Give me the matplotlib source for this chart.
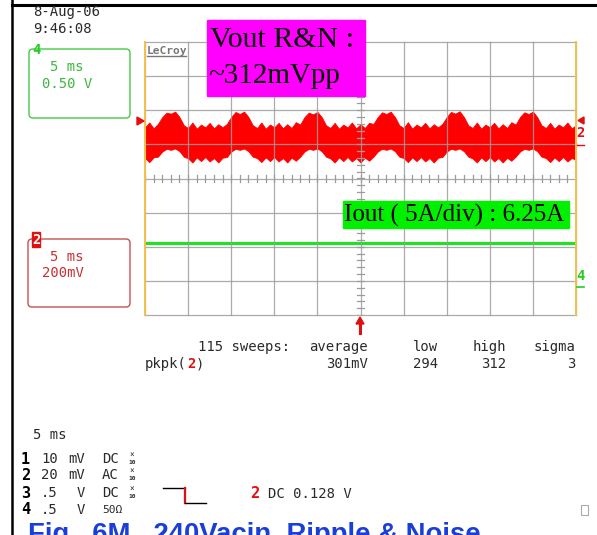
import numpy as np
import matplotlib
matplotlib.use('Agg')
import matplotlib.pyplot as plt
from matplotlib.patches import FancyBboxPatch, Rectangle, Polygon

# ---------------- data (in scope divisions) ----------------
# time axis of the Vout envelope (divisions, 5 ms/div)
vout_x = [i / 10 for i in range(101)]
# upper envelope of the Vout ripple & noise band (div, 20 mV/div)
vout_hi = [1.50, 1.64, 1.47, 1.60, 1.80, 1.93, 1.90, 1.96, 1.80, 1.56,
           1.48, 1.64, 1.46, 1.58, 1.50, 1.63, 1.47, 1.59, 1.50, 1.60,
           1.80, 1.95, 1.89, 1.96, 1.80, 1.56, 1.48, 1.64, 1.46, 1.58,
           1.50, 1.63, 1.47, 1.59, 1.48, 1.65, 1.58, 1.80, 1.93, 1.88,
           1.95, 1.80, 1.56, 1.48, 1.63, 1.46, 1.58, 1.50, 1.64, 1.47,
           1.59, 1.48, 1.63, 1.60, 1.80, 1.94, 1.89, 1.96, 1.80, 1.56,
           1.48, 1.65, 1.46, 1.58, 1.50, 1.63, 1.47, 1.59, 1.50, 1.60,
           1.80, 1.95, 1.90, 1.97, 1.80, 1.56, 1.48, 1.64, 1.46, 1.58,
           1.50, 1.63, 1.47, 1.59, 1.48, 1.65, 1.58, 1.80, 1.94, 1.89,
           1.96, 1.80, 1.56, 1.48, 1.63, 1.46, 1.58, 1.50, 1.64, 1.47, 1.56]
# lower envelope of the Vout ripple & noise band
vout_lo = [0.60, 0.48, 0.62, 0.64, 0.79, 0.87, 0.84, 0.88, 0.80, 0.64,
           0.59, 0.47, 0.62, 0.51, 0.63, 0.50, 0.60, 0.47, 0.61, 0.63,
           0.79, 0.87, 0.84, 0.88, 0.80, 0.64, 0.60, 0.48, 0.62, 0.51,
           0.63, 0.50, 0.60, 0.47, 0.61, 0.52, 0.64, 0.79, 0.87, 0.84,
           0.88, 0.80, 0.64, 0.59, 0.47, 0.62, 0.51, 0.63, 0.50, 0.60,
           0.47, 0.61, 0.52, 0.64, 0.79, 0.87, 0.84, 0.88, 0.80, 0.64,
           0.60, 0.48, 0.62, 0.51, 0.63, 0.50, 0.60, 0.47, 0.61, 0.63,
           0.79, 0.87, 0.84, 0.88, 0.80, 0.64, 0.59, 0.47, 0.62, 0.51,
           0.63, 0.50, 0.60, 0.47, 0.61, 0.52, 0.64, 0.79, 0.87, 0.84,
           0.88, 0.80, 0.64, 0.60, 0.48, 0.62, 0.51, 0.63, 0.50, 0.60, 0.55]
# Iout trace (div)
iout_x = [0, 10]
iout_y = [-1.88, -1.88]

# measurement table
meas_headers = ["average", "low", "high", "sigma"]
meas_values = ["301mV", "294", "312", "3"]
sweeps = "115 sweeps:"

# channel setup table
ch_nums = ["1", "2", "3", "4"]
ch_scale = ["10", "20", ".5", ".5"]
ch_unit = ["mV", "mV", "V", "V"]
ch_coupling = ["DC", "AC", "DC", "50\u03a9"]

# ---------------- figure ----------------
W, H = 597, 535
fig = plt.figure(figsize=(W / 100, H / 100), dpi=100)
fig.patch.set_facecolor('white')

L, R, T, B = 145, 576, 42, 315
sc = fig.add_axes([L / W, 1 - B / H, (R - L) / W, (B - T) / H])
sc.set_xlim(0, 10)
sc.set_ylim(-4, 4)
sc.axis('off')

gcol = '#9c9c9c'
# traces
sc.fill_between(vout_x, vout_lo, vout_hi, color='#ff0000', lw=0.6, zorder=2)
sc.plot(iout_x, iout_y, color='#22e022', lw=2.3, zorder=2, solid_capstyle='butt')

# grid
for i in range(11):
    sc.plot([i, i], [-4, 4], color=gcol, lw=0.9, zorder=3, alpha=0.85, clip_on=False)
for j in range(-4, 5):
    sc.plot([0, 10], [j, j], color=gcol, lw=0.9, zorder=3, alpha=0.85, clip_on=False)
for t in np.arange(0, 10.001, 0.2):
    sc.plot([t, t], [-0.09, 0.09], color=gcol, lw=0.9, zorder=3)
for t in np.arange(-4, 4.001, 0.2):
    sc.plot([4.92, 5.08], [t, t], color=gcol, lw=0.9, zorder=3)
sc.plot([0, 0], [-4, 4], color='#f2c04a', lw=1.4, zorder=4, clip_on=False)
sc.plot([10, 10], [-4, 4], color='#f2c04a', lw=1.4, zorder=4, clip_on=False)

# ---------------- overlay in pixel coords ----------------
ov = fig.add_axes([0, 0, 1, 1], zorder=5)
ov.set_xlim(0, W)
ov.set_ylim(H, 0)
ov.axis('off')
ov.patch.set_alpha(0)

mono = 'DejaVu Sans Mono'
tcol = '#2a2a2a'

ov.plot([12, 12], [0, H], color='black', lw=1.8)
ov.plot([12, W], [5, 5], color='black', lw=2.2)

ov.text(33, 12, "8-Aug-06", family=mono, fontsize=10, color=tcol, va='center')
ov.text(33, 29, "9:46:08", family=mono, fontsize=10, color=tcol, va='center')

# channel 4 box (green)
gbox = '#46c846'
ov.add_patch(FancyBboxPatch((29, 49), 101, 69, boxstyle='round,pad=0,rounding_size=4',
                            ec=gbox, fc='none', lw=1.0))
ov.text(36, 50, "4", family=mono, fontsize=10, fontweight='bold', color='#22cc22', va='center', ha='center')
ov.text(50, 67, "5 ms", family=mono, fontsize=10, color='#3cb83c', va='center')
ov.text(42, 84, "0.50 V", family=mono, fontsize=10, color='#3cb83c', va='center')

# channel 2 box (red)
rbox = '#c85050'
ov.add_patch(FancyBboxPatch((28, 239), 102, 68, boxstyle='round,pad=0,rounding_size=4',
                            ec=rbox, fc='none', lw=1.0))
ov.add_patch(Rectangle((32, 232), 8, 15, color='#e01010'))
ov.text(36, 239.5, "2", family=mono, fontsize=10, fontweight='bold', color='white', va='center', ha='center')
ov.text(50, 257, "5 ms", family=mono, fontsize=10, color='#c83030', va='center')
ov.text(42, 273, "200mV", family=mono, fontsize=10, color='#c83030', va='center')

# LeCroy logo
ov.text(147, 51, "LeCroy", family=mono, fontsize=8, fontweight='bold', color='#777777', va='center')
ov.plot([147, 186], [56, 56], color='#777777', lw=1)

# markers
ov.add_patch(Polygon([[137, 117], [137, 125], [144, 121]], color='#e01010'))
ov.add_patch(Polygon([[584, 117], [584, 124], [578, 120.5]], color='#e01010'))
ov.text(580, 133, "2", family=mono, fontsize=10, fontweight='bold', color='#e01010', va='center', ha='center')
ov.plot([577, 584], [145, 145], color='#e01010', lw=1)
ov.text(580, 276, "4", family=mono, fontsize=10, fontweight='bold', color='#22cc22', va='center', ha='center')
ov.plot([577, 584], [287, 287], color='#22cc22', lw=1.2)

# trigger arrow
ov.add_patch(Polygon([[356, 324], [364, 324], [360, 317]], color='#e01010'))
ov.plot([360, 360], [322, 333], color='#e01010', lw=2.2)

# annotation boxes
ov.add_patch(Rectangle((207, 20), 158, 76, color='#ff00ff', zorder=6))
ov.text(210, 47, "Vout R&N :", family='Liberation Serif', fontsize=21.5, color='black',
        va='baseline', zorder=7)
ov.text(208, 83, "~312mVpp", family='Liberation Serif', fontsize=21, color='black',
        va='baseline', zorder=7)
ov.add_patch(Rectangle((343, 201), 226, 27, color='#00f000', zorder=6))
ov.text(344, 222, "Iout ( 5A/div) : 6.25A", family='Liberation Serif', fontsize=18,
        color='black', va='baseline', zorder=7)

# measurement table
ov.text(198, 347, sweeps, family=mono, fontsize=10, color=tcol, va='center')
for hx, h in zip([368, 438, 506, 575], meas_headers):
    ov.text(hx, 347, h, family=mono, fontsize=10, color=tcol, va='center', ha='right')
for hx, v in zip([368, 438, 506, 575], meas_values):
    ov.text(hx, 364, v, family=mono, fontsize=10, color=tcol, va='center', ha='right')
ov.text(145, 364, "pkpk(", family=mono, fontsize=10, color=tcol, va='center')
ov.text(187, 364, "2", family=mono, fontsize=10, fontweight='bold', color='#e01010', va='center')
ov.text(196, 364, ")", family=mono, fontsize=10, color=tcol, va='center')

# channel setup
ov.text(33, 435, "5 ms", family=mono, fontsize=10, color=tcol, va='center')
row_y = [459, 475, 493, 510]
for k in range(4):
    y = row_y[k]
    ov.text(21, y, ch_nums[k], family=mono, fontsize=11, fontweight='bold', color='black', va='center')
    ov.text(58, y, ch_scale[k], family=mono, fontsize=10, color=tcol, va='center', ha='right')
    ov.text(85, y, ch_unit[k], family=mono, fontsize=10, color=tcol, va='center', ha='right')
    ov.text(102, y, ch_coupling[k], family=mono, fontsize=10 if k < 3 else 8, color=tcol, va='center')
    if k < 3:
        ov.text(132, y - 4, "\u00d7", family=mono, fontsize=5.5, color=tcol, va='center', ha='center')
        ov.text(132, y + 3, "10", family=mono, fontsize=4.5, fontweight='bold', color=tcol, va='center', ha='center')

# trigger step symbol
ov.plot([163, 185], [488, 488], color='black', lw=1)
ov.plot([185, 185], [488, 503], color='#e01010', lw=1.6)
ov.plot([185, 206], [503, 503], color='black', lw=1)
ov.text(250, 494, "2", family=mono, fontsize=11, fontweight='bold', color='#e01010', va='center')
ov.text(268, 494, "DC 0.128 V", family=mono, fontsize=10, color=tcol, va='center')
ov.add_patch(Rectangle((581, 505), 7, 10, ec='#aaaaaa', fc='none', lw=0.8))

# caption (cut at bottom edge, as in the source screenshot)
ov.text(28, 542, "Fig.  6M   240Vacin  Ripple & Noise", family='Liberation Sans', fontsize=19.8,
        fontweight='bold', color='#1a3ed8', va='baseline', clip_on=False)

fig.savefig('out.png', dpi=100)
